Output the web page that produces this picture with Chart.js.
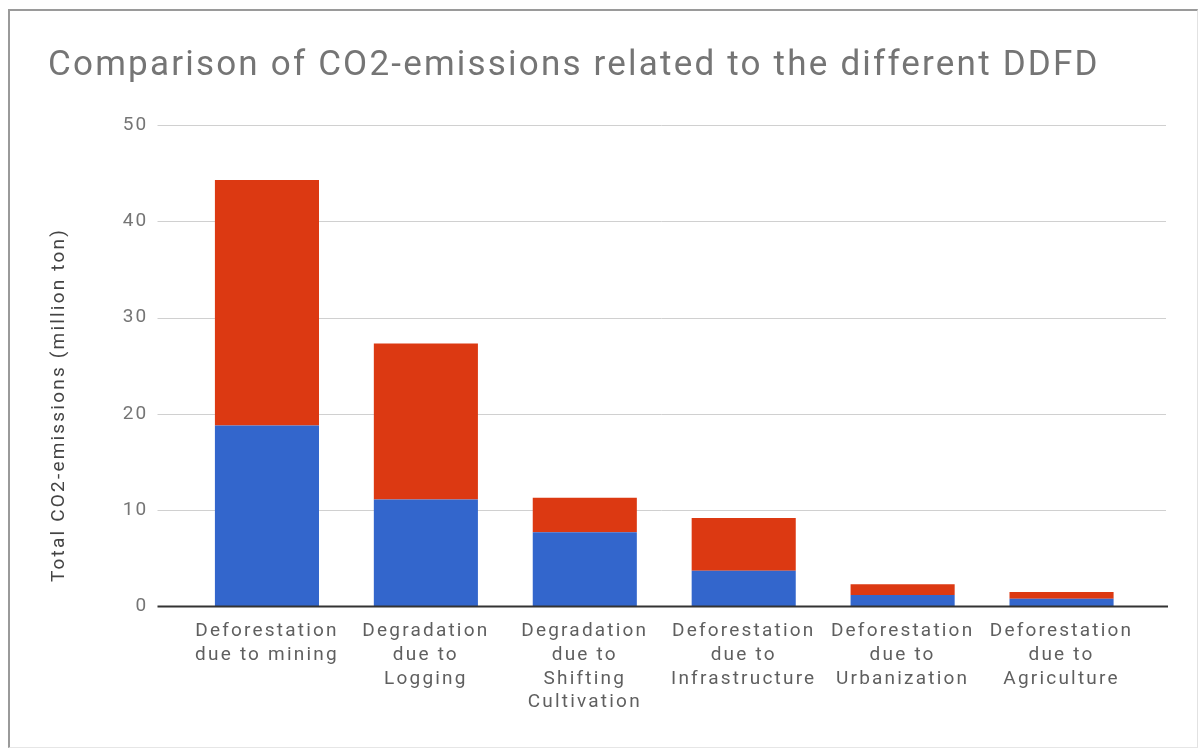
<!DOCTYPE html>
<html>
<head>
<meta charset="utf-8">
<title>Comparison of CO2-emissions related to the different DDFD</title>
<script src="https://cdn.jsdelivr.net/npm/chart.js@4/dist/chart.umd.min.js"></script>
<style>
  html, body { margin: 0; padding: 0; background: #ffffff; }
  #wrap { position: relative; width: 1200px; height: 749px; overflow: hidden; }
  #frame {
    position: absolute; left: 8px; top: 9px; width: 1187px; height: 736px;
    border-left: 2px solid #9a9a9a; border-top: 2px solid #9a9a9a;
    border-right: 1px solid #e2e2e2; border-bottom: 1px solid #e6e6e6;
    pointer-events: none;
  }
  canvas { position: absolute; left: 0; top: 0; }
</style>
</head>
<body>
<div id="wrap">
  <canvas id="chart" width="1200" height="749"></canvas>
  <div id="frame"></div>
</div>
<script>
// Drivers of deforestation and forest degradation (DDFD)
const categories = [
  ['Deforestation', 'due to mining'],
  ['Degradation', 'due to', 'Logging'],
  ['Degradation', 'due to', 'Shifting', 'Cultivation'],
  ['Deforestation', 'due to', 'Infrastructure'],
  ['Deforestation', 'due to', 'Urbanization'],
  ['Deforestation', 'due to', 'Agriculture']
];

// CO2-emissions in million ton, stacked: lower (blue) and upper (red) parts
const blueValues = [18.8, 11.1, 7.7, 3.7, 1.2, 0.8];
const redValues  = [25.5, 16.2, 3.6, 5.5, 1.1, 0.7];

const yTicks = [0, 10, 20, 30, 40, 50];

const titleText = 'Comparison of CO2-emissions related to the different DDFD';
const yAxisTitle = 'Total CO2-emissions (million ton)';

const FONT = 'Roboto, "Open Sans", Arial, sans-serif';
const SPACING = '2.2px';

// Wide letter spacing for every text drawn on the canvas
const spacingPlugin = {
  id: 'letterSpacing',
  beforeUpdate(chart) { chart.ctx.letterSpacing = SPACING; },
  beforeLayout(chart) { chart.ctx.letterSpacing = SPACING; },
  beforeDraw(chart) { chart.ctx.letterSpacing = SPACING; }
};

// Horizontal gridlines that run a little past the plot area, plus the dark zero line
const gridPlugin = {
  id: 'wideGrid',
  beforeDatasetsDraw(chart) {
    const { ctx, chartArea, scales } = chart;
    const y = scales.y;
    ctx.save();
    ctx.strokeStyle = '#d0d0d0';
    ctx.lineWidth = 1;
    yTicks.forEach(v => {
      if (v === 0) return;
      const py = Math.round(y.getPixelForValue(v)) + 0.5;
      ctx.beginPath();
      ctx.moveTo(chartArea.left - 30, py);
      ctx.lineTo(chartArea.right + 25, py);
      ctx.stroke();
    });
    ctx.restore();
  },
  afterDatasetsDraw(chart) {
    const { ctx, chartArea, scales } = chart;
    const py = scales.y.getPixelForValue(0);
    ctx.save();
    ctx.strokeStyle = '#333333';
    ctx.lineWidth = 2;
    ctx.beginPath();
    ctx.moveTo(chartArea.left - 30, py);
    ctx.lineTo(chartArea.right + 27, py);
    ctx.stroke();
    ctx.restore();
  },
  afterDraw(chart) {
    // rotated y-axis title
    const { ctx } = chart;
    ctx.save();
    ctx.letterSpacing = SPACING;
    ctx.translate(59, 405);
    ctx.rotate(-Math.PI / 2);
    ctx.fillStyle = '#444444';
    ctx.font = '19px ' + FONT;
    ctx.textAlign = 'center';
    ctx.textBaseline = 'middle';
    ctx.fillText(yAxisTitle, 0, 0);
    ctx.restore();
  }
};

new Chart(document.getElementById('chart'), {
  type: 'bar',
  data: {
    labels: categories,
    datasets: [
      { label: 'Lower part', data: blueValues, backgroundColor: '#3366cc', borderWidth: 0 },
      { label: 'Upper part', data: redValues, backgroundColor: '#dc3912', borderWidth: 0 }
    ]
  },
  options: {
    responsive: false,
    animation: false,
    devicePixelRatio: 1,
    layout: { padding: { left: 48, right: 59, top: 0, bottom: 0 } },
    datasets: { bar: { categoryPercentage: 1, barPercentage: 0.655 } },
    plugins: {
      legend: { display: false },
      tooltip: { enabled: false },
      title: {
        display: true,
        text: titleText,
        align: 'start',
        color: '#757575',
        font: { family: FONT, size: 35, weight: 'normal', lineHeight: 1.2 },
        padding: { top: 45, bottom: 38 }
      }
    },
    scales: {
      x: {
        stacked: true,
        grid: { display: false, drawTicks: false },
        border: { display: false },
        ticks: {
          color: '#5f5f5f',
          font: { family: FONT, size: 19, lineHeight: 1.25 },
          padding: 13,
          maxRotation: 0,
          autoSkip: false
        },
        afterFit(scale) { scale.height = 142.5; }
      },
      y: {
        stacked: true,
        min: 0,
        max: 50,
        grid: { display: false, drawTicks: false },
        border: { display: false },
        afterBuildTicks(scale) { scale.ticks = yTicks.map(v => ({ value: v })); },
        ticks: {
          color: '#757575',
          font: { family: FONT, size: 19 },
          padding: 39
        },
        afterFit(scale) { scale.width = 139.5; }
      }
    }
  },
  plugins: [spacingPlugin, gridPlugin]
});
</script>
</body>
</html>
